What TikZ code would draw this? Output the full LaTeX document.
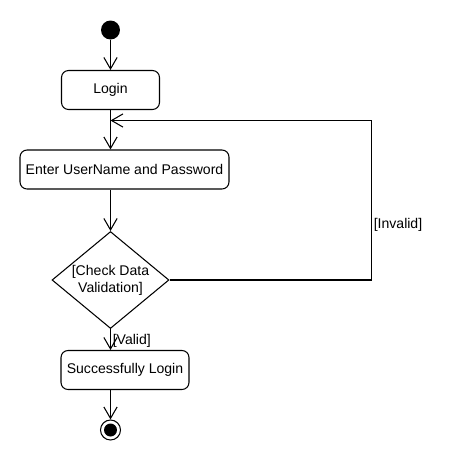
\documentclass[tikz,border=0pt]{standalone}
\usepackage{fontspec}
\setmainfont{Liberation Sans}
\usetikzlibrary{arrows.meta,shapes.geometric}

\begin{document}
\begin{tikzpicture}[x=0.02cm,y=-0.02cm,font=\fontsize{8}{9.6}\selectfont]
\tikzset{action/.style = {shape=rectangle,rounded corners=4pt,draw,line width=0.6pt,minimum height=0.78cm,inner sep=2pt}}
\tikzset{decision/.style = {shape=diamond,shape aspect=1.2,draw,line width=0.6pt,minimum width=2.34cm,minimum height=1.94cm,inner sep=0pt,align=center}}
\tikzset{edge/.style = {line width=0.6pt,-{Straight Barb[length=6.5pt,width=7.5pt,line width=0.6pt]}}}
\useasboundingbox (0,0) rectangle (460,460);
\node[circle,fill=black,minimum size=0.38cm,inner sep=0pt] (start) at (110.5,30) {};
\node[action,minimum width=1.96cm] (login) at (110.5,90) {Login};
\node[action,minimum width=4.18cm] (enter) at (124.5,169.5) {Enter UserName and Password};
\node[decision] (check) at (110.5,280) {[Check Data\\Validation]};
\node[action,minimum width=2.56cm] (done) at (125,370) {Successfully Login};
\node[circle,draw,line width=0.6pt,minimum size=0.4cm,inner sep=0pt] (final) at (110.5,430) {};
\node[circle,fill=black,minimum size=0.26cm,inner sep=0pt] at (final) {};
\coordinate (loop) at (371.5,120.5);
\node (invalid) at (398,225) {[Invalid]};
\draw[edge] (start) to (login);
\draw[edge] (login) to (login.south |- enter.north);
\draw[edge] (check.north |- enter.south) to (check);
\draw[edge] (check.east) -| (loop) -- (login.south |- loop);
\draw[edge] (check.south) to node[anchor=west,pos=0.55,inner sep=1pt] {[Valid]} (check.south |- done.north);
\draw[edge] (done.south -| final) to (final);
\end{tikzpicture}
\end{document}
